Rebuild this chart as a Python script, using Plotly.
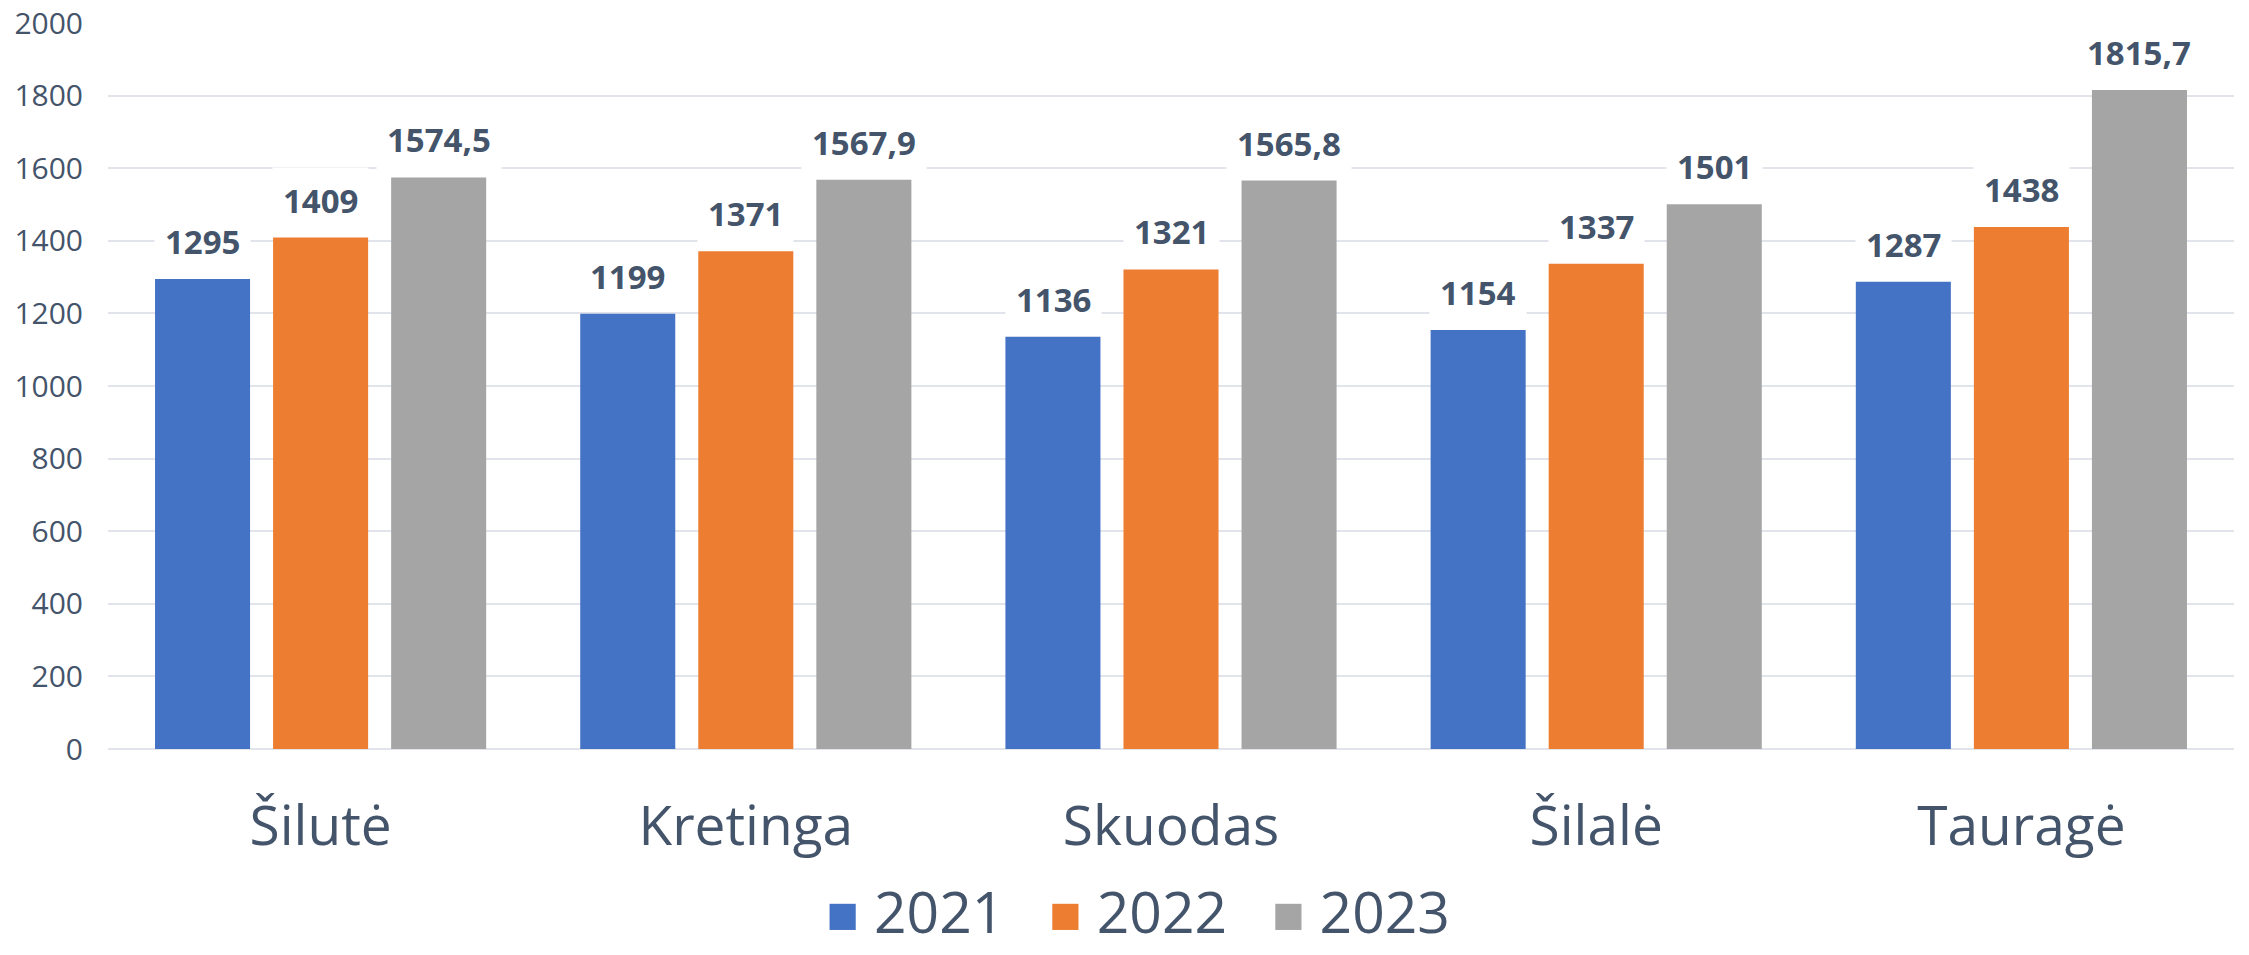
import plotly.graph_objects as go

categories = ["Šilutė", "Kretinga", "Skuodas", "Šilalė", "Tauragė"]
years = ["2021", "2022", "2023"]
values_2021 = [1295, 1199, 1136, 1154, 1287]
values_2022 = [1409, 1371, 1321, 1337, 1438]
values_2023 = [1574.5, 1567.9, 1565.8, 1501, 1815.7]
y_ticks = [0, 200, 400, 600, 800, 1000, 1200, 1400, 1600, 1800, 2000]

series = [values_2021, values_2022, values_2023]
colors = ["#4472C4", "#ED7D31", "#A5A5A5"]
text_color = "#44546A"
FONT = "Open Sans"

def fmt(v):
    s = ("%g" % v)
    return s.replace(".", ",")

fig = go.Figure()
for name, vals, col in zip(years, series, colors):
    fig.add_trace(go.Bar(
        x=categories, y=vals, name=name,
        marker=dict(color=col, line=dict(width=0)),
        hoverinfo="skip", showlegend=False,
    ))

# legend entries with large square swatches
for name, col in zip(years, colors):
    fig.add_trace(go.Scatter(
        x=[None], y=[None], mode="none", hoverinfo="skip",
        name='<span style="color:%s;font-size:54px">■</span> %s' % (col, name),
        showlegend=True,
    ))

# data labels as annotations with white background (breaks gridlines like the original)
shifts = [-118, 0, 118]
annotations = []
for vals, xs in zip(series, shifts):
    for c, v in zip(categories, vals):
        annotations.append(dict(
            x=c, y=v, xref="x", yref="y", text="<b>%s</b>" % fmt(v),
            showarrow=False, xshift=xs, yshift=4, yanchor="bottom",
            bgcolor="white", borderpad=10,
            font=dict(family=FONT, size=33, color=text_color),
        ))

fig.update_layout(
    width=2249, height=955, autosize=False,
    margin=dict(l=108, r=15, t=23, b=206, autoexpand=False),
    paper_bgcolor="white", plot_bgcolor="white",
    barmode="group", bargap=0.167, bargroupgap=0.195,
    font=dict(family=FONT, color=text_color),
    annotations=annotations,
    showlegend=True,
    legend=dict(
        orientation="h", xref="paper", x=0.4765, xanchor="center",
        yref="container", y=0, yanchor="bottom",
        font=dict(family=FONT, size=57, color=text_color),
        traceorder="normal", itemwidth=30,
    ),
)
fig.update_yaxes(
    range=[0, 2000], tickvals=y_ticks, ticktext=[str(t) for t in y_ticks],
    showgrid=True, gridcolor="#E1E5EB", gridwidth=2,
    zeroline=True, zerolinecolor="#E1E5EB", zerolinewidth=2,
    showline=False, ticks="", ticklabelstandoff=24,
    tickfont=dict(family=FONT, size=30, color=text_color),
    fixedrange=True,
)
fig.update_xaxes(
    showgrid=False, showline=False, ticks="", ticklabelstandoff=40,
    tickfont=dict(family=FONT, size=55, color=text_color),
    fixedrange=True,
)

fig.write_html("out.html", config={"displayModeBar": False},
               post_script="document.body.style.margin='0';document.body.style.overflow='hidden';")
